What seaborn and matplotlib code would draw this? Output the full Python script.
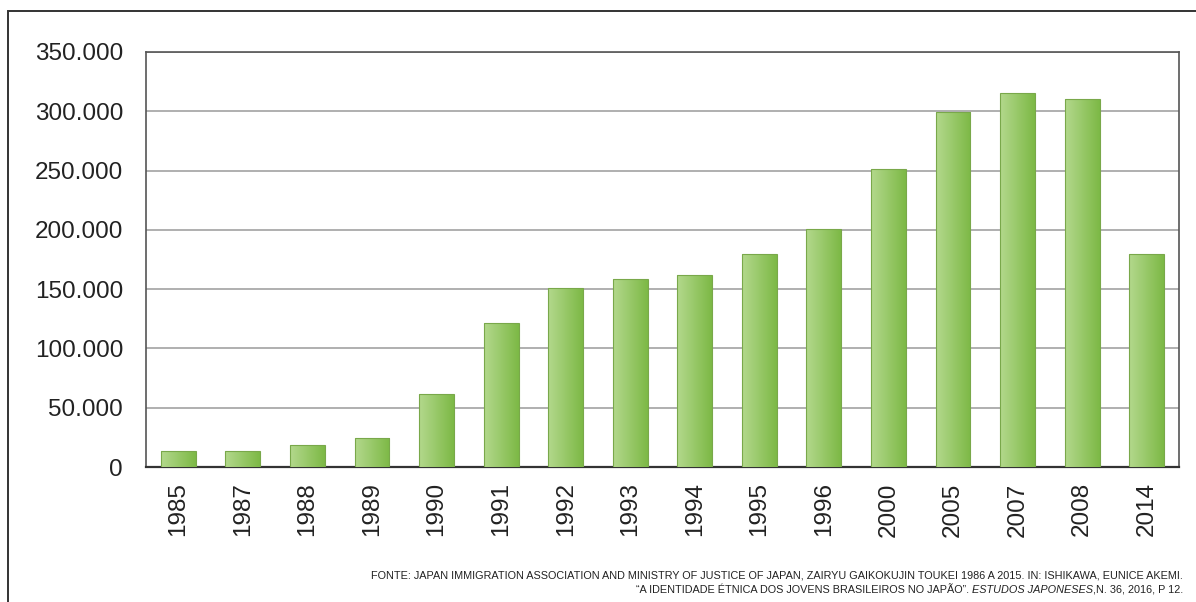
import numpy as np
import pandas as pd
import matplotlib
matplotlib.use("Agg")
import matplotlib.pyplot as plt
import seaborn as sns
from matplotlib.colors import LinearSegmentedColormap
from matplotlib.patches import Rectangle

# data
years = ['1985', '1987', '1988', '1989', '1990', '1991', '1992', '1993',
         '1994', '1995', '1996', '2000', '2005', '2007', '2008', '2014']
people = [13500, 13500, 18500, 24500, 61500, 121500, 151000, 158500,
          162000, 179600, 200700, 251000, 299000, 315000, 310000, 179600]
y_ticks = [0, 50000, 100000, 150000, 200000, 250000, 300000, 350000]
y_labels = ['0', '50.000', '100.000', '150.000', '200.000', '250.000', '300.000', '350.000']

source_1 = ("FONTE: JAPAN IMMIGRATION ASSOCIATION AND MINISTRY OF JUSTICE OF JAPAN, "
            "ZAIRYU GAIKOKUJIN TOUKEI 1986 A 2015. IN: ISHIKAWA, EUNICE AKEMI.")
source_2a = "\u201cA IDENTIDADE \u00c9TNICA DOS JOVENS BRASILEIROS NO JAP\u00c3O\u201d. "
source_2b = "ESTUDOS JAPONESES"
source_2c = ",N. 36, 2016, P 12."

df = pd.DataFrame({'ano': years, 'pessoas': people})

sns.set_style("white")
plt.rcParams['font.family'] = ['Liberation Sans', 'DejaVu Sans']

fig = plt.figure(figsize=(11.96, 6.02), dpi=100)
ax = fig.add_axes([146 / 1196, 1 - 467 / 602, (1179 - 146) / 1196, (467 - 52) / 602])

sns.barplot(data=df, x='ano', y='pessoas', color='#97c766', width=0.54,
            edgecolor='#79a84a', linewidth=0.8, ax=ax, zorder=3)

# horizontal gradient fill, light on the left, darker on the right
green = LinearSegmentedColormap.from_list('grad', ['#b3d88c', '#7db946'])
grad = np.linspace(0, 1, 64).reshape(1, -1)
for bar in ax.patches:
    x0, w, h = bar.get_x(), bar.get_width(), bar.get_height()
    im = ax.imshow(grad, cmap=green, aspect='auto', extent=(x0, x0 + w, 0, h),
                   zorder=3, interpolation='bilinear')
    im.set_clip_path(bar)
    bar.set_facecolor('none')
    bar.set_zorder(4)

ax.set_xlim(-0.5, len(years) - 0.5)
ax.set_ylim(0, 350000)
ax.set_yticks(y_ticks)
ax.set_yticklabels(y_labels, fontsize=17.5, color='#222222')
ax.yaxis.grid(True, color='#9a9a9a', linewidth=1.1, zorder=0)
ax.set_axisbelow(True)
ax.set_xlabel('')
ax.set_ylabel('')

ax.set_xticks(range(len(years)))
ax.set_xticklabels(years, rotation=90, fontsize=17.5, color='#222222')
ax.set_xticks(np.arange(-0.5, len(years)), minor=True)
ax.tick_params(axis='x', which='major', length=0, pad=11)
ax.tick_params(axis='x', which='minor', length=13, width=1.2, color='#444444', direction='out')
ax.tick_params(axis='y', length=11.5, width=1.2, color='#444444', pad=5, direction='out')

for side in ['left', 'right', 'top', 'bottom']:
    ax.spines[side].set_visible(True)
    ax.spines[side].set_color('#555555')
    ax.spines[side].set_linewidth(1.2)
ax.spines['bottom'].set_color('#333333')
ax.spines['bottom'].set_linewidth(1.6)

# outer frame around the figure (runs off the right and bottom edges)
fig.patches.append(Rectangle((8 / 1196, -0.1), 1.2, 1 - 11 / 602 + 0.1,
                             transform=fig.transFigure, fill=False,
                             edgecolor='#333333', linewidth=1.4))

src_font = ['Liberation Sans Narrow', 'Liberation Sans']
src_size = 7.8
fig.text(1183 / 1196, 1 - 575 / 602, source_1, ha='right', va='center',
         fontsize=src_size, family=src_font, color='#222222')
t3 = fig.text(1183 / 1196, 1 - 590 / 602, source_2c, ha='right', va='center',
              fontsize=src_size, family=src_font, color='#222222')
t2 = ax.annotate(source_2b, xy=(0, 0.5), xycoords=t3, ha='right', va='center',
                 fontsize=src_size, family=src_font, style='italic', color='#222222',
                 annotation_clip=False)
ax.annotate(source_2a, xy=(0, 0.5), xycoords=t2, ha='right', va='center',
            fontsize=src_size, family=src_font, color='#222222', annotation_clip=False)

fig.savefig('out.png', dpi=100)
